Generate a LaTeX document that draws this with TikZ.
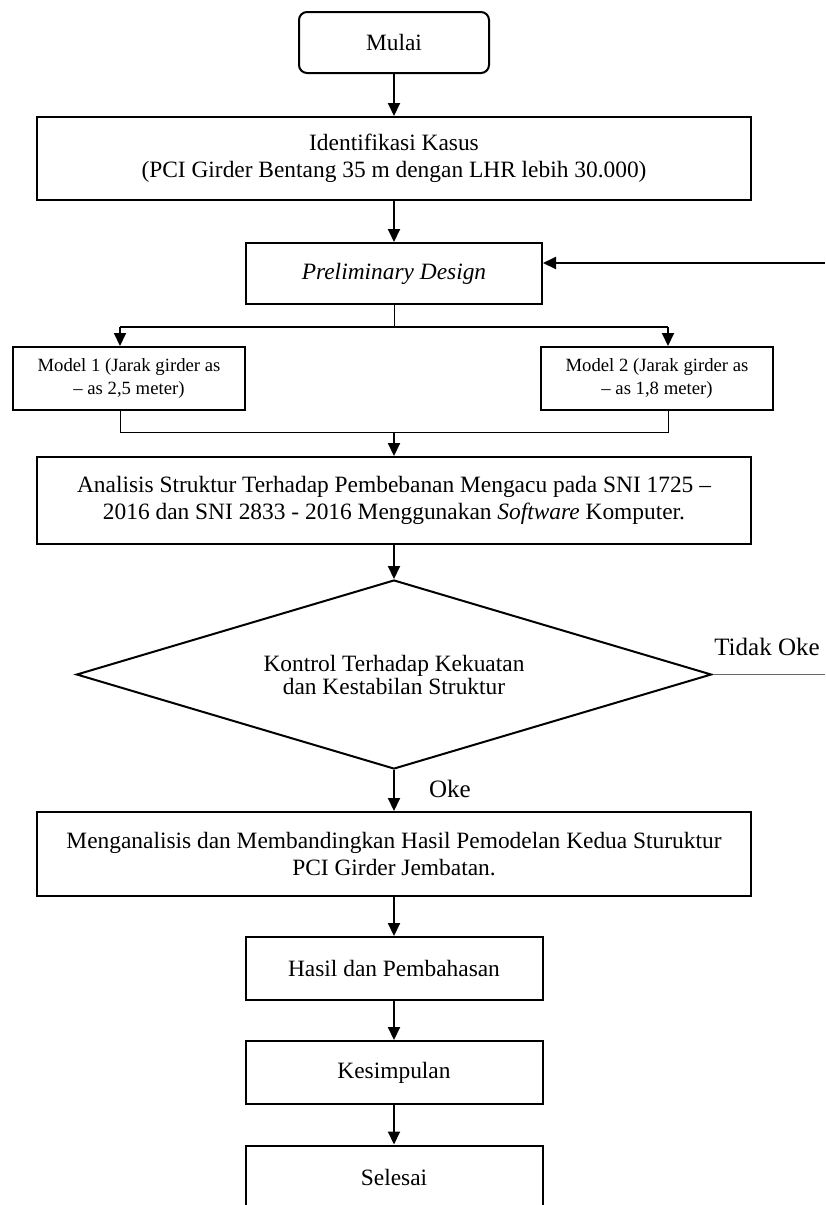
\documentclass[tikz,border=0pt]{standalone}
\usepackage{fontspec}
\setmainfont{Liberation Serif}
\usepackage{tikz}
\usetikzlibrary{shapes, arrows.meta, positioning}
\tikzstyle{process} = [rectangle, draw=black, line width=1pt, inner sep=0, align=center,
                       font=\fontsize{11.7}{13.5}\selectfont]
\tikzstyle{startstop} = [process, rounded corners=4pt]
\tikzstyle{model} = [process, font=\fontsize{9.35}{11.5}\selectfont]
\tikzstyle{decision} = [diamond, draw=black, line width=1pt, aspect=3.36, inner sep=0, align=center,
                        font=\fontsize{11.7}{11.5}\selectfont]
\tikzstyle{flow} = [line width=1pt, -{Triangle[length=6.5pt, width=6pt]}]
\tikzstyle{branch} = [line width=0.5pt]
\tikzstyle{answer} = [font=\fontsize{12.5}{15}\selectfont]

\begin{document}
\begin{tikzpicture}[x=0.5pt, y=-0.5pt]
				\useasboundingbox (0,0) rectangle (825,1205);

				\node (Mulai) [startstop, minimum width=95pt, minimum height=30.5pt] at (394, 42.5) {Mulai};

				\node (Kasus) [process, minimum width=357pt, minimum height=41.5pt] at (394, 158.5)
					{Identifikasi Kasus\\(PCI Girder Bentang 35 m dengan LHR lebih 30.000)};
				\draw [flow] (Mulai) -- (Kasus);

				\node (Prelim) [process, minimum width=148pt, minimum height=30.5pt] at (394, 273.5)
					{\textit{Preliminary Design}};
				\draw [flow] (Kasus) -- (Prelim);

				% back from the check
				\coordinate (BackIn) at (825, 263);
				\draw [flow] (BackIn) -- (BackIn -| Prelim.east);

				% the two models
				\coordinate (Split) at (394, 327);
				\coordinate (SplitL) at (120, 327);
				\coordinate (SplitR) at (668, 327);
				\draw [branch] (Prelim) -- (Split);
				\draw [line width=1pt] (SplitL) -- (SplitR);

				\node (Model1) [model, minimum width=116pt, minimum height=31.5pt] at (129, 378.5)
					{Model 1 (Jarak girder as\\-- as 2,5 meter)};
				\draw [flow] (SplitL) -- (SplitL |- Model1.north);

				\node (Model2) [model, minimum width=116pt, minimum height=31.5pt] at (657, 378.5)
					{Model 2 (Jarak girder as\\-- as 1,8 meter)};
				\draw [flow] (SplitR) -- (SplitR |- Model2.north);

				\coordinate (JoinL) at (120, 432);
				\coordinate (JoinR) at (668, 432);
				\coordinate (Join) at (394, 432);
				\draw [branch] (JoinL |- Model1.south) -- (JoinL) -- (JoinR) -- (JoinR |- Model2.south);

				% analysis and check
				\node (Analisis) [process, minimum width=357pt, minimum height=43.5pt] at (394, 500.5)
					{Analisis Struktur Terhadap Pembebanan Mengacu pada SNI 1725 --\\
					 2016 dan SNI 2833 - 2016 Menggunakan \textit{Software} Komputer.};
				\draw [flow] (Join) -- (Analisis);

				\node (Kontrol) [decision, minimum width=317.5pt, minimum height=94.5pt] at (394, 674.5)
					{Kontrol Terhadap Kekuatan\\dan Kestabilan Struktur};
				\draw [flow] (Analisis) -- (Kontrol);

				\coordinate (BackOut) at (825, 674.5);
				\draw [branch, draw=black!60] (Kontrol.east) -- (BackOut);
				\node (TidakOke) [answer] at (767, 647) {Tidak Oke};

				\node (Banding) [process, minimum width=357pt, minimum height=42pt] at (394, 854)
					{Menganalisis dan Membandingkan Hasil Pemodelan Kedua Sturuktur\\PCI Girder Jembatan.};
				\draw [flow] (Kontrol) -- (Banding);
				\node (Oke) [answer] at (450, 789) {Oke};

				% closing steps
				\node (Hasil) [process, minimum width=148.5pt, minimum height=31.5pt] at (394, 968.5)
					{Hasil dan Pembahasan};
				\draw [flow] (Banding) -- (Hasil);

				\node (Simpul) [process, minimum width=148.5pt, minimum height=31.5pt] at (394, 1072.5)
					{Kesimpulan};
				\draw [flow] (Hasil) -- (Simpul);

				\node (Selesai) [process, minimum width=148.5pt, minimum height=31.5pt] at (394, 1177)
					{Selesai};
				\draw [flow] (Simpul) -- (Selesai);
			\end{tikzpicture}
\end{document}
